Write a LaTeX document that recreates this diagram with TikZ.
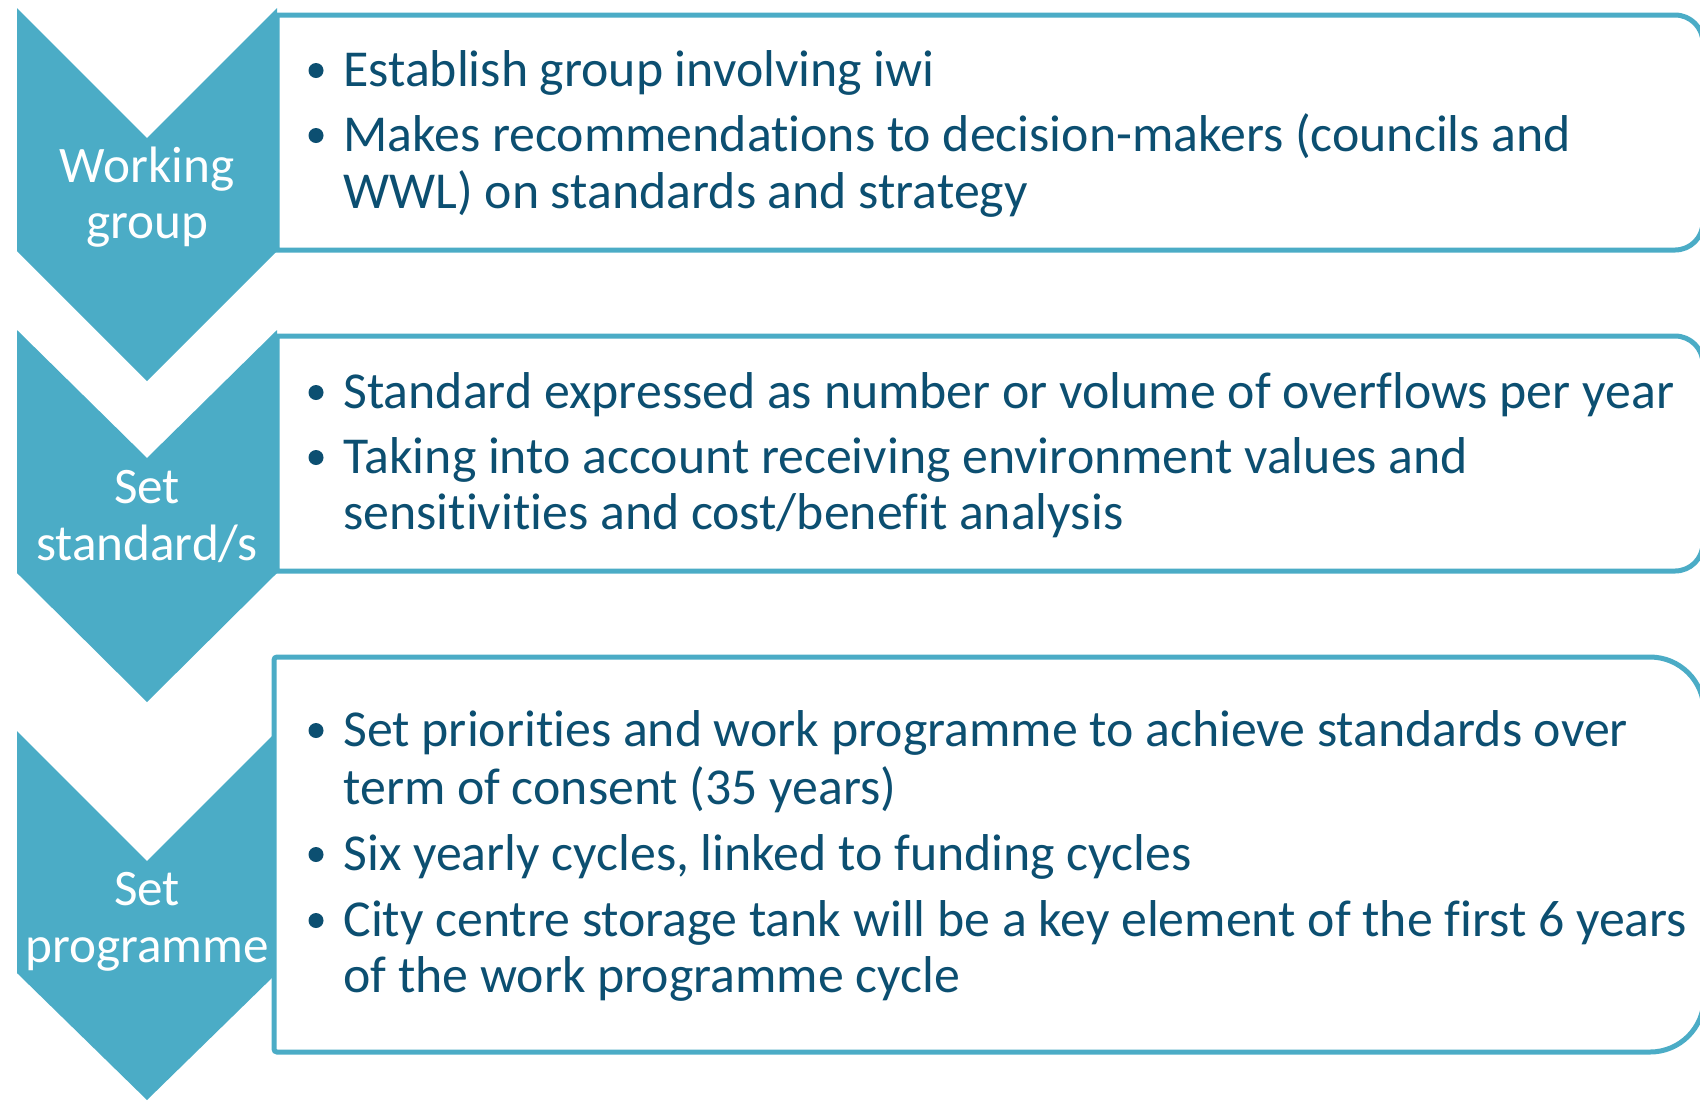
\documentclass[tikz,border=0pt]{standalone}
\usepackage{fontspec}
\setmainfont{Carlito}[RawFeature={-liga;-clig;-dlig;-calt;-hlig}]
\definecolor{chevblue}{RGB}{75,172,198}
\definecolor{inkblue}{RGB}{12,79,113}

\begin{document}
\begin{tikzpicture}[x=0.5pt,y=-0.5pt,
        chev/.style={fill=chevblue},
        pane/.style={draw=chevblue,line width=2.5pt,fill=white},
        lab/.style={anchor=base,text=white,inner sep=0pt,font=\fontsize{25.6}{30}\selectfont},
        line/.style={anchor=base west,text=inkblue,inner sep=0pt,font=\fontsize{25.9}{30}\selectfont},
        dot/.style={circle,fill=inkblue,inner sep=0pt,minimum size=7.5pt}]
        \useasboundingbox (0,0) rectangle (1700,1100);

        % chevrons
        \fill[chev] (17,8) -- (147,138) -- (277,8) -- (277,251) -- (147,381) -- (17,251) -- cycle;
        \fill[chev] (17,330) -- (147,458) -- (277,330) -- (277,573) -- (147,702) -- (17,573) -- cycle;
        \fill[chev] (17,731) -- (147,861) -- (277,731) -- (277,973) -- (147,1100) -- (17,973) -- cycle;

        % boxes
        \draw[pane] (900,250) [sharp corners] -- (277,250) -- (277,15) -- (900,15)
                    [rounded corners=14pt] -- (1703,15) -- (1703,250) -- cycle;
        \draw[pane] (900,571) [sharp corners] -- (277,571) -- (277,336) -- (900,336)
                    [rounded corners=14pt] -- (1703,336) -- (1703,571) -- cycle;
        \draw[pane] (900,1052) [rounded corners=1.5pt] -- (274,1052) -- (274,657) -- (900,657)
                    [rounded corners=27pt] -- (1704,657) -- (1704,1052) -- cycle;

        \node[lab] at (147,182) (WG1) {Working};
        \node[lab] at (147,238) (WG2) {group};
        \node[lab] at (147,503) (SS1) {Set};
        \node[lab] at (147,560) (SS2) {standard/s};
        \node[lab] at (147,905) (SP1) {Set};
        \node[lab] at (147,962) (SP2) {programme};

        \node[dot] at (316,70.5) (A) {};
        \node[line] at (343,86) (A1) {Establish group involving iwi};
        \node[dot] at (316,135.5) (B) {};
        \node[line] at (343,151) (B1) {Makes recommendations to decision-makers (councils and};
        \node[line] at (343,208) (B2) {WWL) on standards and strategy};

        \node[dot] at (316,392.5) (C) {};
        \node[line] at (343,408) (C1) {Standard expressed as number or volume of overflows per year};
        \node[dot] at (316,457.5) (D) {};
        \node[line] at (343,473) (D1) {Taking into account receiving environment values and};
        \node[line] at (343,529.5) (D2) {sensitivities and cost/benefit analysis};

        \node[dot] at (316,730.5) (E) {};
        \node[line] at (343,746) (E1) {Set priorities and work programme to achieve standards over};
        \node[line] at (343,804) (E2) {term of consent (35 years)};
        \node[dot] at (316,854.5) (F) {};
        \node[line] at (343,870) (F1) {Six yearly cycles, linked to funding cycles};
        \node[dot] at (316,920.5) (G) {};
        \node[line] at (343,936) (G1) {City centre storage tank will be a key element of the first 6 years};
        \node[line] at (343,992) (G2) {of the work programme cycle};

        %\draw (A) -- (B);
    \end{tikzpicture}
\end{document}
